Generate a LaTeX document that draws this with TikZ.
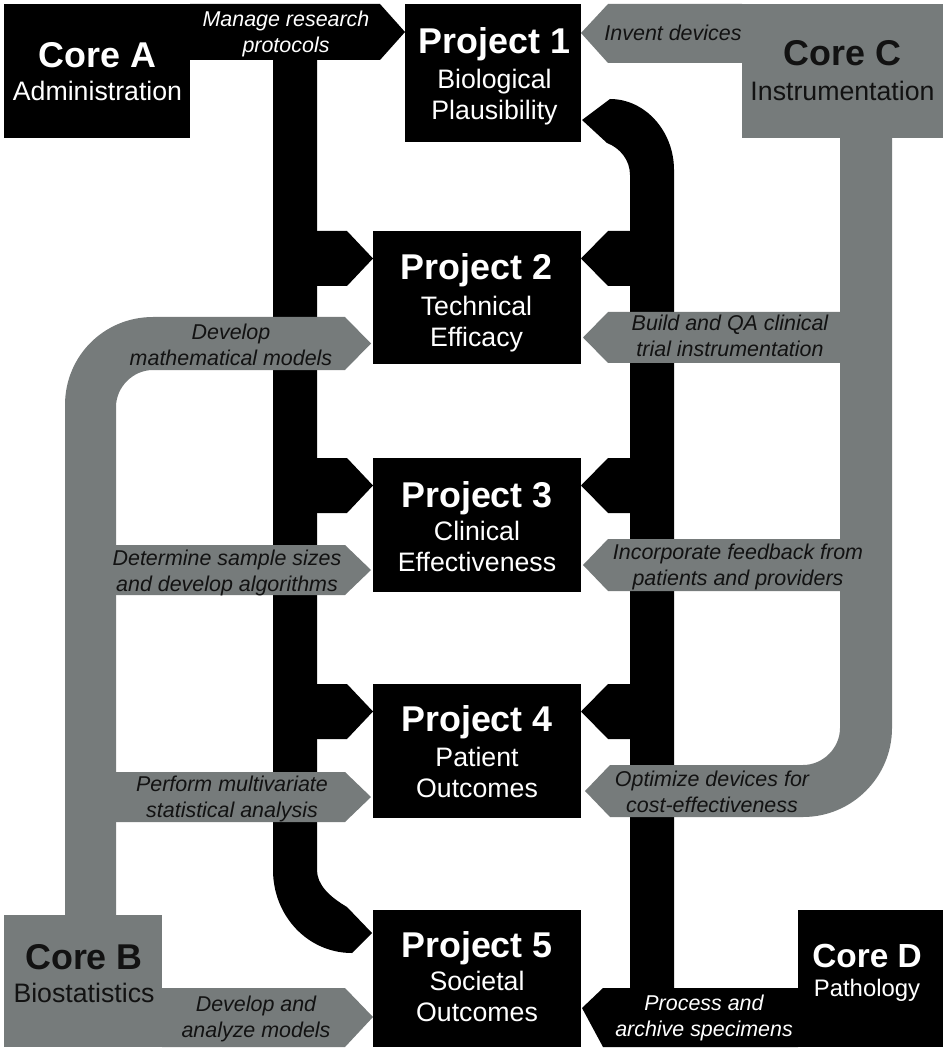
\documentclass[tikz,border=0pt]{standalone}
\usepackage{fontspec}
\setmainfont{Liberation Sans}
\definecolor{coregray}{RGB}{118,123,123}
\definecolor{ink}{RGB}{18,18,18}
\newcommand{\boxtitle}[1]{{\fontsize{20.4}{20.4}\selectfont\bfseries #1}}

\begin{document}
\begin{tikzpicture}[x=0.02cm, y=-0.02cm,
  boxtext/.style={align=center, inner sep=0pt, text depth=0pt, anchor=south, font=\fontsize{15.2}{17.8}\selectfont},
  note/.style={align=center, inner sep=0pt, text depth=0pt, anchor=south, font=\fontsize{12.2}{14.7}\selectfont\itshape}]
\useasboundingbox (0,0) rectangle (945,1050);
\fill (4,4) rectangle (190,138);
\fill (190,4) -- (380,4) -- (405,32) -- (380,60) -- (190,60) -- cycle;
\fill (273,60) -- (273,870) .. controls (273,916) and (308,953) .. (352,953) -- (372,933) -- (347,907) .. controls (330,897) and (317,885) .. (317,870) -- (317,60) -- cycle;
\fill (317,231) -- (347,231) -- (373,258.5) -- (347,286) -- (317,286) -- cycle;
\fill (317,458) -- (347,458) -- (373,485.5) -- (347,513) -- (317,513) -- cycle;
\fill (317,684) -- (347,684) -- (373,711.5) -- (347,739) -- (317,739) -- cycle;
\fill (582,120) -- (610,99) .. controls (645,99) and (674,131) .. (674,170) -- (674,988) -- (630,988) -- (630,175) .. controls (630,160) and (620,148) .. (607,143) -- cycle;
\fill (630,231) -- (608,231) -- (581,258.5) -- (608,286) -- (630,286) -- cycle;
\fill (630,458) -- (608,458) -- (581,485.5) -- (608,513) -- (630,513) -- cycle;
\fill (630,684) -- (608,684) -- (581,711.5) -- (608,739) -- (630,739) -- cycle;
\fill (798,910) rectangle (943,1047);
\fill (798,988) -- (603,988) -- (582,1008) -- (603,1047) -- (798,1047) -- cycle;
\fill (405,4) rectangle (581,142);
\fill (373,231) rectangle (581,364);
\fill (373,458) rectangle (581,592);
\fill (373,684) rectangle (581,818);
\fill (373,910) rectangle (581,1047);
\fill[coregray] (742,4) rectangle (943,138);
\fill[coregray] (742,4) -- (608,4) -- (581,33) -- (608,63) -- (742,63) -- cycle;
\fill[coregray] (840,138) -- (840,728) .. controls (840,748) and (823,765) .. (803,765) -- (610,765) -- (585,791) -- (610,817) -- (803,817) .. controls (852,817) and (892,777) .. (892,728) -- (892,138) -- cycle;
\fill[coregray] (840,312) -- (608,312) -- (583,337.5) -- (608,363) -- (840,363) -- cycle;
\fill[coregray] (840,539) -- (608,539) -- (583,565) -- (608,591) -- (840,591) -- cycle;
\fill[coregray] (4,915) rectangle (162,1047);
\fill[coregray] (65,915) -- (65,405) .. controls (65,356) and (104,317) .. (153,317) -- (345,317) -- (371,343.5) -- (345,370) -- (153,370) .. controls (133,370) and (116,387) .. (116,407) -- (116,915) -- cycle;
\fill[coregray] (116,545) -- (345,545) -- (371,570) -- (345,595) -- (116,595) -- cycle;
\fill[coregray] (116,772) -- (345,772) -- (371,797) -- (345,822) -- (116,822) -- cycle;
\fill[coregray] (162,988) -- (345,988) -- (373,1017) -- (345,1047) -- (162,1047) -- cycle;
\node[boxtext, text=white] (coreA) at (97.5,101) {\boxtitle{Core A}\\[0.8pt]Administration};
\node[boxtext, text=ink] (coreB) at (84,1003) {\boxtitle{Core B}\\[0.8pt]Biostatistics};
\node[boxtext, text=ink] (coreC) at (842.5,101) {\boxtitle{Core C}\\[2.4pt]Instrumentation};
\node[boxtext, text=white, font=\fontsize{13.6}{16.6}\selectfont] (coreD) at (867,997) {{\fontsize{19}{19}\selectfont\bfseries Core D}\\Pathology};
\node[boxtext, text=white] (proj1) at (494.5,120) {\boxtitle{Project 1}\\[1.9pt]Biological\\Plausibility};
\node[boxtext, text=white] (proj2) at (476.5,347) {\boxtitle{Project 2}\\[2.4pt]Technical\\Efficacy};
\node[boxtext, text=white] (proj3) at (477,572) {\boxtitle{Project 3}\\[0.8pt]Clinical\\Effectiveness};
\node[boxtext, text=white] (proj4) at (477,798) {\boxtitle{Project 4}\\[1.9pt]Patient\\Outcomes};
\node[boxtext, text=white] (proj5) at (477,1022) {\boxtitle{Project 5}\\[0.8pt]Societal\\Outcomes};
\node[note, text=white] (manage) at (286,53) {Manage research\\protocols};
\node[note, text=ink] (invent) at (673,41) {Invent devices};
\node[note, text=ink] (models) at (231,366) {Develop\\mathematical models};
\node[note, text=ink] (buildqa) at (730,357) {Build and QA clinical\\trial instrumentation};
\node[note, text=ink] (samples) at (227,592) {Determine sample sizes\\and develop algorithms};
\node[note, text=ink] (feedback) at (738,586) {Incorporate feedback from\\patients and providers};
\node[note, text=ink] (stats) at (232,818) {Perform multivariate\\statistical analysis};
\node[note, text=ink] (optimize) at (712,813) {Optimize devices for\\cost-effectiveness};
\node[note, text=ink] (analyze) at (256,1038) {Develop and\\analyze models};
\node[note, text=white] (archive) at (704,1037) {Process and\\archive specimens};
\end{tikzpicture}
\end{document}
